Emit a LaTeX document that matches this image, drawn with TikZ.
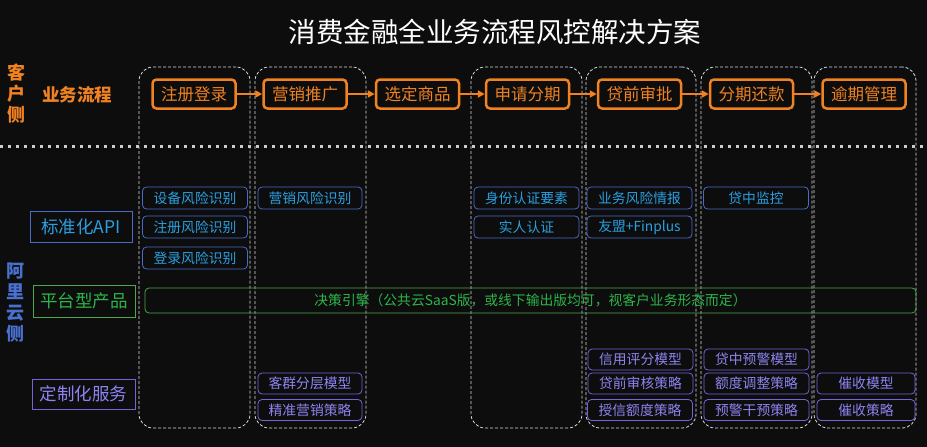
\documentclass[tikz,border=0pt]{standalone}
\usepackage{fontspec}
\setmainfont{Noto Sans CJK SC}
\usetikzlibrary{arrows.meta,positioning}
\definecolor{bgcol}{HTML}{0D0D0D}
\definecolor{flow}{HTML}{F08222}
\definecolor{apiline}{HTML}{4A6CC8}
\definecolor{apitext}{HTML}{2A9FE0}
\definecolor{platline}{HTML}{4CA84A}
\definecolor{plattext}{HTML}{2DB54A}
\definecolor{custline}{HTML}{7563D8}
\definecolor{custtext}{HTML}{8C84F0}
\definecolor{cloud}{HTML}{4A70D0}

\begin{document}
\begin{tikzpicture}[x=1pt,y=-1pt,>=Latex,
  colbox/.style={draw=white!85!black,dash pattern=on 3pt off 2pt,line width=0.8pt,rounded corners=14pt,minimum height=361pt,inner sep=0pt},
  flowbox/.style={draw=flow,text=flow,line width=2.5pt,rounded corners=4pt,minimum width=83pt,minimum height=29pt,inner sep=0pt,font=\fontsize{16.5}{18}\selectfont},
  apibox/.style={draw=apiline,text=apitext,line width=0.8pt,rounded corners=4pt,minimum width=105pt,minimum height=22pt,inner sep=0pt,font=\fontsize{13.8}{15}\selectfont},
  custbox/.style={draw=custline,text=custtext,line width=0.8pt,rounded corners=4pt,minimum width=105pt,minimum height=21pt,inner sep=0pt,font=\fontsize{13.8}{15}\selectfont},
  sidebox/.style={line width=0.8pt,minimum width=102pt,minimum height=31pt,inner sep=0pt,font=\fontsize{17.5}{20}\selectfont},
  flowarrow/.style={-{Triangle[length=7pt,width=7pt]},flow,line width=2pt}]
\fill[bgcol] (0,0) rectangle (927,447);
\useasboundingbox (0,0) rectangle (927,447);

% title
\node[text=white,font=\fontsize{27.5}{30}\selectfont] (title) at (495,32) {消费金融全业务流程风控解决方案};

% stage columns
\node[colbox,minimum width=111pt] (c1) at (194.5,247.5) {};
\node[colbox,minimum width=111pt] (c2) at (310.5,247.5) {};
\node[colbox,minimum width=111pt] (c3) at (526.5,247.5) {};
\node[colbox,minimum width=110pt] (c4) at (641,247.5) {};
\node[colbox,minimum width=111pt] (c5) at (756.5,247.5) {};
\node[colbox,minimum width=102pt] (c6) at (865,247.5) {};

% divider
\draw[white!80!black,line width=3pt,dash pattern=on 3pt off 5pt] (0,146) -- (927,146);

% client side
\node[text=flow,font=\fontsize{18}{21}\selectfont\bfseries,align=center] (client) at (17,94) {客\\户\\侧};
\node[text=flow,font=\fontsize{17.5}{20}\selectfont\bfseries] (flowlabel) at (77,95) {业务流程};

\node[flowbox] (f1) at (194,94) {注册登录};
\node[flowbox] (f2) at (305,94) {营销推广};
\node[flowbox] (f3) at (417.5,94) {选定商品};
\node[flowbox] (f4) at (527.5,94) {申请分期};
\node[flowbox] (f5) at (639.5,94) {贷前审批};
\node[flowbox] (f6) at (751.5,94) {分期还款};
\node[flowbox] (f7) at (864,94) {逾期管理};
\foreach \a/\b in {f1/f2,f2/f3,f3/f4,f4/f5,f5/f6,f6/f7}
  \draw[flowarrow] (\a) -- (\b);

% cloud side
\node[text=cloud,font=\fontsize{18}{21}\selectfont\bfseries,align=center] (cloudside) at (15,303) {阿\\里\\云\\侧};

\node[sidebox,draw=apiline,text=apitext] (api) at (81,226.5) {标准化API};
\node[apibox] (a1) at (195,198) {设备风险识别};
\node[apibox] (a2) at (195,227) {注册风险识别};
\node[apibox] (a3) at (195,258) {登录风险识别};
\node[apibox,minimum width=104pt] (a4) at (310,198) {营销风险识别};
\node[apibox] (a5) at (526.5,198) {身份认证要素};
\node[apibox] (a6) at (526.5,227) {实人认证};
\node[apibox] (a7) at (639.5,198) {业务风险情报};
\node[apibox] (a8) at (639.5,227) {友盟+Finplus};
\node[apibox] (a9) at (756,198) {贷中监控};

\node[sidebox,draw=platline,text=plattext,minimum height=32pt] (plat) at (84,301) {平台型产品};
\node[draw=platline,text=plattext,line width=0.8pt,rounded corners=4pt,minimum width=771pt,minimum height=25pt,inner sep=0pt,font=\fontsize{13.8}{15}\selectfont] (engine) at (530.5,300.5)
 {决策引擎（公共云SaaS版，或线下输出版均可，视客户业务形态而定）};

\node[sidebox,draw=custline,text=custtext,minimum width=103pt,minimum height=30pt] (cust) at (83.5,394) {定制化服务};
\node[custbox,minimum width=104pt] (m1) at (310,383.5) {客群分层模型};
\node[custbox,minimum width=104pt] (m2) at (310,410) {精准营销策略};
\node[custbox] (m3) at (640.5,359.5) {信用评分模型};
\node[custbox] (m4) at (640.5,383.5) {贷前审核策略};
\node[custbox] (m5) at (640,410) {授信额度策略};
\node[custbox] (m6) at (756.5,359.5) {贷中预警模型};
\node[custbox] (m7) at (756.5,383.5) {额度调整策略};
\node[custbox] (m8) at (756.5,410) {预警干预策略};
\node[custbox,minimum width=98pt] (m9) at (866,383.5) {催收模型};
\node[custbox,minimum width=98pt] (m10) at (866,410) {催收策略};
\end{tikzpicture}
\end{document}
